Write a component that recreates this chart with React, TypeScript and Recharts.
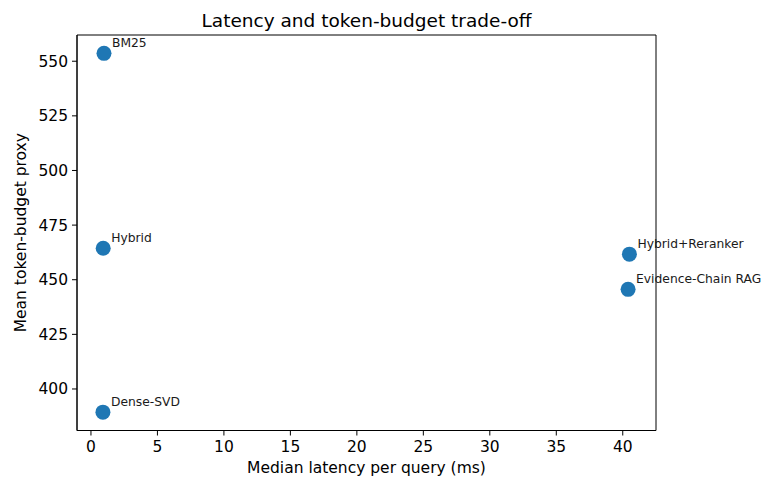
import { ReferenceArea, Scatter, ScatterChart, XAxis, YAxis } from 'recharts';

const METHODS = ['BM25', 'Hybrid', 'Dense-SVD', 'Hybrid+Reranker', 'Evidence-Chain RAG'];
const LATENCY_MS = [0.98, 0.92, 0.9, 40.5, 40.4];
const TOKEN_BUDGET = [553.6, 464.4, 389.4, 461.7, 445.6];
const X_TICKS = [0, 5, 10, 15, 20, 25, 30, 35, 40];
const Y_TICKS = [400, 425, 450, 475, 500, 525, 550];
const X_DOMAIN = [-1.05, 42.5];
const Y_DOMAIN = [381, 562];

const FONT = '"DejaVu Sans", sans-serif';
const DOT = '#1f77b4';

const points = METHODS.map((name, i) => ({
  name,
  latency: LATENCY_MS[i],
  tokens: TOKEN_BUDGET[i],
}));

/** Filled marker plus its small annotation, offset up-right like plt.annotate. */
function Marker(props: any) {
  const { cx, cy, payload } = props;
  return (
    <g>
      <circle cx={cx} cy={cy} r={7.5} fill={DOT} />
      <text x={cx + 8} y={cy - 6.5} fontSize={12.3} fontFamily={FONT} fill="#1a1a1a">
        {payload.name}
      </text>
    </g>
  );
}

export default function App() {
  const tick = { fontSize: 15.5, fill: '#000', fontFamily: FONT };
  return (
    <div style={{ position: 'absolute', left: 0, top: 0, width: 763, height: 479, background: '#fff' }}>
      <ScatterChart
        width={763}
        height={479}
        margin={{ top: 35, right: 107, bottom: 0, left: 0 }}
      >
        <XAxis
          type="number"
          dataKey="latency"
          domain={X_DOMAIN}
          ticks={X_TICKS}
          height={48.5}
          tick={tick}
          tickSize={5}
          tickMargin={5.5}
          stroke="#000"
          label={{
            content: () => (
              <text x={366.5} y={472.5} textAnchor="middle" fontSize={15.5} fontFamily={FONT} fill="#000">
                Median latency per query (ms)
              </text>
            ),
          }}
        />
        <YAxis
          type="number"
          dataKey="tokens"
          domain={Y_DOMAIN}
          ticks={Y_TICKS}
          width={77}
          tick={tick}
          tickSize={5}
          tickMargin={4}
          stroke="#000"
          label={{
            content: () => (
              <text
                x={21}
                y={232.7}
                textAnchor="middle"
                dominantBaseline="central"
                transform="rotate(-90, 21, 232.7)"
                fontSize={15.5}
                fontFamily={FONT}
                fill="#000"
              >
                Mean token-budget proxy
              </text>
            ),
          }}
        />
        <ReferenceArea
          x1={X_DOMAIN[0]}
          x2={X_DOMAIN[1]}
          y1={Y_DOMAIN[0]}
          y2={Y_DOMAIN[1]}
          stroke="#000"
          strokeWidth={1}
          fill="none"
          fillOpacity={0}
          ifOverflow="visible"
          label={{
            content: () => (
              <text x={366.5} y={26.5} textAnchor="middle" fontSize={18.5} fontFamily={FONT} fill="#000">
                Latency and token-budget trade-off
              </text>
            ),
          }}
        />
        <Scatter data={points} shape={Marker} isAnimationActive={false} />
      </ScatterChart>
    </div>
  );
}
